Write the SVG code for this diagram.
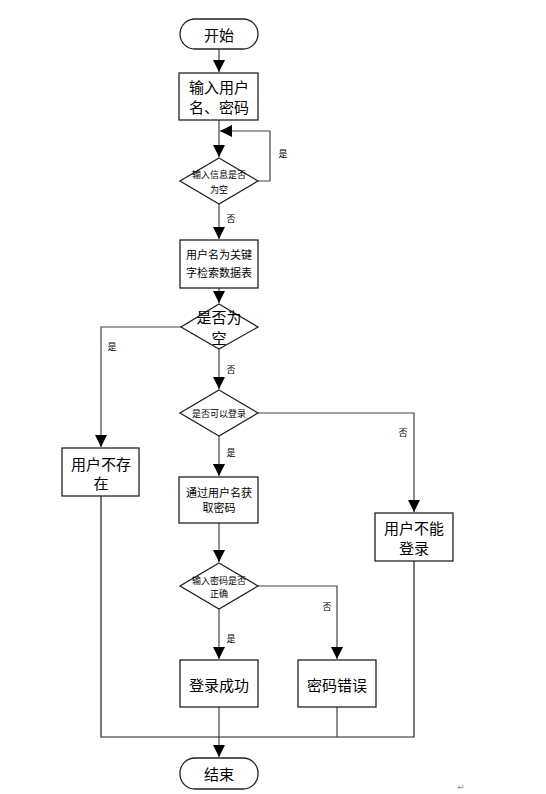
<svg xmlns="http://www.w3.org/2000/svg" width="546" height="794" viewBox="0 0 546 794">
<style>
.box{fill:#fff;stroke:#222;stroke-width:1.3}
.ln{fill:none;stroke:#444;stroke-width:1.2}
.t{font-family:"Noto Sans CJK SC",sans-serif;fill:#000;text-anchor:middle;dominant-baseline:central}
.big{font-size:15px}
.sm{font-size:11px}
.lb{font-size:9px}
</style>
<defs>
<marker id="ah" markerUnits="userSpaceOnUse" markerWidth="12" markerHeight="14" viewBox="0 0 12 14" refX="12" refY="7" orient="auto">
<path d="M0,1 L12,7 L0,13 Z" fill="#000"/>
</marker>
</defs>
<rect width="546" height="794" fill="#fff"/>
<g id="connectors">
<line class="ln" x1="219" y1="49" x2="219" y2="72" marker-end="url(#ah)"/>
<line class="ln" x1="219" y1="120" x2="219" y2="157" marker-end="url(#ah)"/>
<polyline class="ln" points="258,181 270,181 270,131 220,131" marker-end="url(#ah)"/>
<line class="ln" x1="219" y1="204" x2="219" y2="239" marker-end="url(#ah)"/>
<line class="ln" x1="219" y1="288" x2="219" y2="303" marker-end="url(#ah)"/>
<polyline class="ln" points="181,327 101,327 101,447" marker-end="url(#ah)"/>
<line class="ln" x1="219" y1="349" x2="219" y2="389" marker-end="url(#ah)"/>
<polyline class="ln" points="258,413 414,413 414,512" marker-end="url(#ah)"/>
<line class="ln" x1="219" y1="436" x2="219" y2="476" marker-end="url(#ah)"/>
<line class="ln" x1="219" y1="523" x2="219" y2="562" marker-end="url(#ah)"/>
<polyline class="ln" points="258,586 337,586 337,659" marker-end="url(#ah)"/>
<line class="ln" x1="219" y1="609" x2="219" y2="659" marker-end="url(#ah)"/>
<line class="ln" x1="219" y1="707" x2="219" y2="757" marker-end="url(#ah)"/>
<polyline class="ln" points="101,496 101,737 414,737 414,561" style="stroke:#222"/>
<line class="ln" x1="337" y1="707" x2="337" y2="737"/>
<text class="t lb" x="283" y="153">是</text>
<text class="t lb" x="231" y="218">否</text>
<text class="t lb" x="112" y="346">是</text>
<text class="t lb" x="231" y="369">否</text>
<text class="t lb" x="403" y="432">否</text>
<text class="t lb" x="231" y="452">是</text>
<text class="t lb" x="327" y="606">否</text>
<text class="t lb" x="231" y="638">是</text>
</g>
<g id="start">
<rect class="box" x="180" y="19" width="78" height="30" rx="15"/>
<text class="t big" x="219" y="34">开始</text>
</g>
<g id="input">
<rect class="box" x="179" y="73" width="79" height="47"/>
<text class="t big" x="219" y="86">输入用户</text>
<text class="t big" x="219" y="106">名、密码</text>
</g>
<g id="check-empty">
<polygon class="box" points="219,158 258,181 219,204 180,181"/>
<text class="t lb" x="219" y="174">输入信息是否</text>
<text class="t lb" x="219" y="189">为空</text>
</g>
<g id="search">
<rect class="box" x="180" y="240" width="78" height="48"/>
<text class="t sm" x="219" y="254">用户名为关键</text>
<text class="t sm" x="219" y="272">字检索数据表</text>
</g>
<g id="is-empty">
<polygon class="box" points="219,304 258,327 219,349 181,327"/>
<text class="t big" x="219" y="316">是否为</text>
<text class="t big" x="219" y="337">空</text>
</g>
<g id="user-not-exist">
<rect class="box" x="62" y="448" width="77" height="48"/>
<text class="t big" x="101" y="463">用户不存</text>
<text class="t big" x="101" y="482">在</text>
</g>
<g id="can-login">
<polygon class="box" points="219,390 258,413 219,436 180,413"/>
<text class="t lb" x="219" y="413">是否可以登录</text>
</g>
<g id="get-password">
<rect class="box" x="179" y="477" width="79" height="46"/>
<text class="t sm" x="219" y="492">通过用户名获</text>
<text class="t sm" x="219" y="507">取密码</text>
</g>
<g id="cannot-login">
<rect class="box" x="375" y="513" width="78" height="48"/>
<text class="t big" x="414" y="527">用户不能</text>
<text class="t big" x="414" y="547">登录</text>
</g>
<g id="check-password">
<polygon class="box" points="219,563 258,586 219,609 180,586"/>
<text class="t lb" x="219" y="580">输入密码是否</text>
<text class="t lb" x="219" y="593">正确</text>
</g>
<g id="login-success">
<rect class="box" x="180" y="660" width="78" height="47"/>
<text class="t big" x="219" y="684">登录成功</text>
</g>
<g id="password-error">
<rect class="box" x="298" y="660" width="78" height="47"/>
<text class="t big" x="337" y="684">密码错误</text>
</g>
<g id="end">
<rect class="box" x="180" y="758" width="78" height="31" rx="15"/>
<text class="t big" x="219" y="773">结束</text>
</g>
<text x="461" y="790" font-family="DejaVu Sans, sans-serif" font-size="9" fill="#888" text-anchor="middle">↵</text>
</svg>
